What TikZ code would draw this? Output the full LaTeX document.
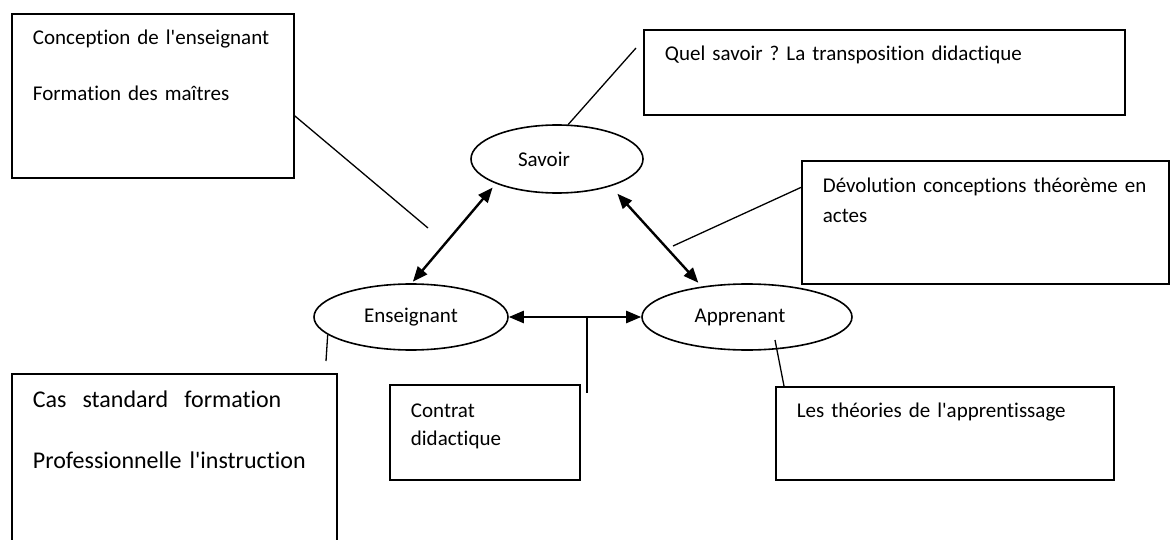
\documentclass[tikz,border=0pt]{standalone}
\usepackage{fontspec}
\setmainfont{Carlito}[Ligatures={NoCommon}]
\usetikzlibrary{arrows.meta,shapes.geometric}
\frenchspacing

\begin{document}
\begin{tikzpicture}[x=1pt, y=-1pt,
    every node/.style = {font=\fontsize{21}{25}\selectfont},
    note/.style = {draw, line width=1.8pt, rectangle, anchor=north west, align=left, inner xsep=21pt, inner ysep=0pt},
    pole/.style = {draw, line width=1.6pt, ellipse, inner sep=0pt, minimum height=66pt},
    link/.style = {line width=2.4pt, >={Triangle[length=15pt,width=12pt]}, <->},
    lead/.style = {line width=1.3pt}]

  \useasboundingbox (0,0) rectangle (1170,540);

  % the three poles
  \node [pole, minimum width=172pt, minimum height=68pt] (sav) at (557,159) {Savoir\kern26pt};
  \node [pole, minimum width=194pt] (ens) at (411,317) {\raisebox{-3pt}{Enseignant}};
  \node [pole, minimum width=210pt] (app) at (747,317) {\raisebox{-3pt}{Apprenant}\kern14pt};

  % text boxes
  \node [note, text width=240pt, text height=31pt, text depth=133pt] (conc) at (11,13)
    {Conception de l\textquotesingle enseignant\\[31pt]Formation des maîtres};
  \node [note, text width=439pt, text height=31pt, text depth=54pt] (qsav) at (643,29)
    {Quel savoir ? La transposition didactique};
  \node [note, text width=325pt, text height=32pt, text depth=91pt] (devo) at (801,160)
    {Dévolution conceptions théorème en\\[5pt]actes};
  \node [note, text width=148pt, text height=33pt, text depth=62pt] (ctr) at (389,384)
    {Contrat\\[3pt]didactique};
  \node [note, font=\fontsize{24}{29}\selectfont, text width=283pt, text height=34pt, text depth=134pt] (cas) at (11,373)
    {Cas\ \ standard\ \ formation\\[32pt]Professionnelle l\textquotesingle instruction};
  \node [note, text width=296pt, text height=31pt, text depth=62pt] (theo) at (775,386)
    {Les théories de l\textquotesingle apprentissage};

  % arrows between the poles
  \draw [link, shorten <=5pt, shorten >=2pt] (sav.202) -- (ens.89);
  \draw [link, shorten <=10pt, shorten >=5pt] (sav.-27) -- (app.146);
  \draw [link] (ens.east) -- (app.west);

  % lines to the boxes
  \coordinate (concEnd) at (428,228);
  \coordinate (qsavEnd) at (636,48);
  \coordinate (devoEnd) at (673,246);
  \coordinate (casEnd) at (326,361);
  \coordinate (theoEnd) at (775,340);
  \coordinate (ctrEnd) at (587,393);
  \draw [lead] ([yshift=-20pt]conc.east) -- (concEnd);
  \draw [lead] (sav.72) -- (qsavEnd);
  \draw [lead] (devoEnd) -- ([yshift=35pt]devo.west);
  \draw [lead] (ens.192) -- (casEnd);
  \draw [lead] (theoEnd) -- ([xshift=9pt]theo.north west);
  \draw [lead] (ctrEnd |- ens.east) -- (ctrEnd);

\end{tikzpicture}
\end{document}
